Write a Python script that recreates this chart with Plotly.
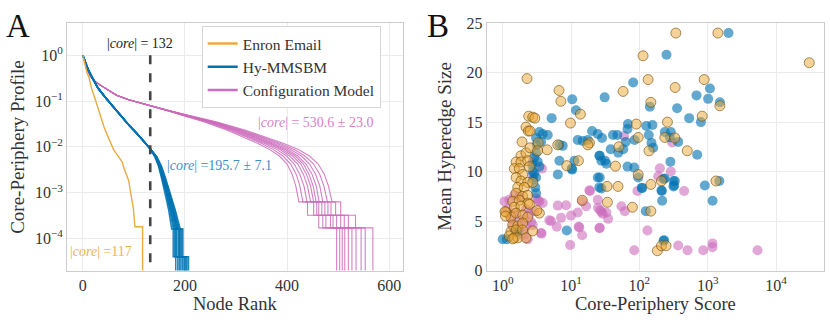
import plotly.graph_objects as go

# ---------------- panel A: core-periphery profiles ----------------
enron_rank = [0, 4, 8, 12, 17, 22, 26, 32, 38, 42, 48, 54, 60, 66, 72, 77, 80, 85, 90, 93, 96, 99, 102, 117, 117]
enron_profile = [1.0, 0.62, 0.42, 0.33, 0.19, 0.13, 0.095, 0.055, 0.035, 0.026, 0.018, 0.013, 0.0088,
                 0.0070, 0.0055, 0.0047, 0.0036, 0.0026, 0.0018, 0.0011, 0.00070, 0.00045, 0.00018,
                 0.00018, 1e-7]

# Hy-MMSBM runs: shared head, per-run tails
mmsbm_head_rank = [0, 10, 20, 30, 45, 60, 75, 90, 105, 120, 132]
mmsbm_head_profile = [1.0, 0.5, 0.30, 0.19, 0.117, 0.074, 0.048, 0.030, 0.020, 0.013, 0.0091]
mmsbm_tail_profile = [0.0060, 0.0038, 0.0021, 0.0010, 0.00042, 0.00016, 0.00016, 0.00004, 0.00004, 1e-7]
mmsbm_tail_rank = [
    [141, 148, 154, 161, 168, 174, 177, 177, 182, 182],
    [142, 149, 155, 163, 170, 177, 180, 180, 186, 186],
    [142, 150, 156, 164, 172, 179, 182, 182, 189, 189],
    [143, 150, 157, 165, 173, 181, 184, 184, 192, 192],
    [143, 151, 158, 166, 175, 183, 187, 187, 195, 195],
    [143, 151, 158, 167, 176, 184, 189, 189, 198, 198],
    [144, 152, 159, 168, 177, 186, 190, 190, 200, 200],
    [144, 152, 160, 169, 178, 187, 192, 192, 202, 202],
    [145, 153, 161, 170, 180, 189, 194, 194, 204, 204],
    [145, 154, 162, 171, 181, 191, 196, 196, 207, 207],
]

# configuration model runs
config_head_rank = [0, 5, 10, 15, 20, 25, 35, 50, 67, 90, 110, 131, 160]
config_head_profile = [1.0, 0.66, 0.45, 0.35, 0.30, 0.26, 0.22, 0.174, 0.132, 0.107, 0.093, 0.079, 0.065]
config_tail_profile = [0.049, 0.035, 0.023, 0.0158, 0.0117, 0.0087, 0.0063, 0.0042, 0.0025, 0.0014,
                       0.00063, 0.00063, 0.00032, 0.00032, 0.00017, 0.00017, 1e-7]
config_tail_rank = [
    [194, 238, 283, 318, 344, 366, 385, 400, 410, 417, 423, 440, 440, 462, 462, 497, 497],
    [196, 242, 288, 324, 351, 373, 392, 407, 418, 425, 431, 452, 452, 470, 470, 503, 503],
    [197, 245, 292, 329, 357, 380, 399, 414, 425, 433, 439, 458, 458, 476, 476, 508, 508],
    [199, 248, 296, 334, 362, 386, 405, 421, 432, 440, 446, 462, 462, 485, 485, 513, 513],
    [200, 250, 300, 338, 367, 391, 411, 427, 438, 446, 452, 468, 468, 490, 490, 520, 520],
    [201, 252, 303, 342, 371, 396, 416, 432, 443, 451, 457, 474, 474, 497, 497, 527, 527],
    [202, 254, 306, 346, 376, 401, 421, 437, 449, 457, 463, 480, 480, 505, 505, 535, 535],
    [204, 257, 310, 351, 382, 407, 428, 444, 456, 464, 470, 486, 486, 512, 512, 545, 545],
    [205, 260, 314, 356, 388, 414, 435, 452, 464, 472, 479, 495, 495, 520, 520, 553, 553],
    [207, 263, 319, 362, 395, 422, 444, 461, 473, 481, 488, 505, 505, 534, 534, 568, 568],
]
core_size = 132

# ---------------- panel B: scatter ----------------
enron_score = [1.85, 2.19, 1.57, 1.85, 2.32, 1.48, 1.75, 2.46, 1.96, 1.57, 1.85, 2.32, 1.66, 2.07, 1.57,
               1.96, 2.32, 1.40, 1.75, 2.32, 1.48, 1.85, 2.46, 1.12, 1.32, 1.57, 1.96, 2.32, 1.40, 1.66,
               1.96, 1.32, 1.57, 1.96, 2.75, 1.25, 1.48, 1.66, 2.19, 1.40, 3.44, 2.75, 3.16, 1.08, 1.10,
               2.27, 6.67, 7.1, 13.7, 9.8, 2.4, 2.75, 2.95, 2.19, 2.37, 2.51, 1.92, 2.51, 3.3, 4.47,
               6.4, 18.6, 17.6, 12.8, 8.65, 3.24,
               341, 1406, 113, 134, 57.7, 333, 885, 147, 1503, 828, 257, 90, 96, 235, 330, 50, 138,
               500, 44.6, 96, 210, 147, 33.6, 48.6, 1318, 34, 79, 147, 183, 210, 245, 30500, 14.6]
enron_size = [11.6, 11.9, 10.97, 10.97, 11.1, 10.3, 10.3, 10.5, 9.7, 9.4, 9.05, 8.9, 8.4, 8.4, 7.8,
              7.5, 7.6, 7.0, 7.1, 6.8, 6.4, 6.5, 6.7, 5.9, 5.4, 5.8, 5.6, 5.4, 4.6, 4.5,
              4.8, 3.95, 4.1, 4.1, 4.0, 3.5, 3.3, 3.3, 3.3, 3.2, 5.8, 8.9, 6.06, 5.96, 5.5,
              19.4, 18.2, 17.1, 15.8, 14.9, 15.6, 15.5, 15.4, 14.5, 14.1, 14.1, 13.0, 12.4, 12.9, 12.2,
              12.7, 12.9, 12.7, 11.1, 10.6, 12.1,
              24.0, 24.0, 21.7, 19.3, 18.1, 18.5, 19.3, 17.0, 16.65, 15.6, 15.0, 14.8, 13.45, 13.45,
              13.4, 12.5, 12.1, 12.1, 10.55, 9.7, 9.05, 8.7, 8.5, 8.5, 9.05, 6.9, 6.4, 6.0, 2.0, 2.5,
              2.5, 21.0, 7.1]

mmsbm_score = [10.4, 11.8, 5.2, 20.3, 3.44, 3.85, 4.56, 3.08, 3.64, 3.15, 6.75, 7.55, 12.5, 14.8, 17.6,
               24.6, 25.9, 6.75, 6.4, 11.2, 10.4, 3.08, 2.9, 3.25, 3.44, 2.75, 3.08, 3.0, 3.08, 24.6,
               25.9, 8.65, 1.0, 1.15, 1.53, 1.66,
               249, 81, 31, 1075, 684, 1012, 356, 1503, 142, 534, 792, 68, 67, 126, 155, 235, 288,
               279, 369, 28.4, 41, 47.6, 63, 85, 137, 150, 159, 38, 49, 58, 26.3, 27.8, 32.9, 700,
               284, 67, 84, 96, 235, 330, 322, 26.3, 27.8, 110, 210, 215, 906, 1175, 124, 230,
               2010, 1475, 213, 315, 315, 225, 108, 225, 10.2, 31.4, 2.7, 2.9, 2.8]
mmsbm_size = [17.3, 16.2, 15.4, 14.1, 14.0, 13.8, 13.7, 13.4, 13.0, 12.7, 12.7, 12.6, 13.2, 13.1, 13.2,
              13.8, 11.6, 11.1, 9.7, 11.1, 10.2, 11.9, 11.4, 11.0, 10.5, 10.0, 9.4, 8.4, 7.8, 9.4,
              8.4, 4.05, 3.16, 3.16, 3.95, 3.95,
              21.8, 19.0, 17.5, 18.4, 17.7, 17.35, 16.4, 17.0, 16.55, 15.4, 15.0, 14.8, 14.3, 14.6,
              14.7, 14.0, 14.0, 13.45, 13.0, 13.4, 13.7, 13.7, 13.0, 13.2, 13.7, 12.9, 12.4, 12.25,
              11.9, 12.25, 11.6, 11.1, 10.8, 11.7, 11.0, 10.5, 10.4, 9.4, 9.3, 9.05, 8.6, 9.4, 8.3,
              8.35, 8.1, 7.05, 8.6, 7.05, 6.0, 3.06,
              24.0, 9.05, 8.04, 9.05, 8.5, 9.25, 8.35, 3.0, 10.3, 11.1, 10.7, 9.8, 9.2]

config_score = [3.76, 2.75, 2.75, 1.06, 1.25, 1.48, 1.75, 3.08, 3.44, 3.85, 1.18, 1.57, 2.19, 2.46, 2.91,
                1.32, 1.66, 2.07, 2.6, 1.40, 1.75, 2.19, 2.75, 3.64, 2.32, 1.57, 2.07, 3.7, 3.3,
                6.4, 8.45, 4.81, 6.17, 7.14, 10, 12.5, 12.9, 14.5, 9.7, 18.5, 24.6, 26, 16.6, 14.5,
                5.1, 13.2, 19, 26.6, 29,
                59.7, 301, 199, 288, 188, 93.5, 451, 24.8, 27.8, 32.9, 34.8, 54.5, 61, 26.3, 131, 84,
                369, 505, 857, 1170, 1170, 5340]
config_size = [10.3, 11.0, 9.6, 6.98, 7.14, 7.62, 7.46, 7.3, 6.98, 6.82, 6.18, 5.87, 6.18, 5.71, 6.02,
               5.23, 5.07, 5.23, 4.91, 4.43, 4.27, 4.43, 4.59, 3.79, 3.15, 3.79, 3.63, 3.73, 7.08,
               6.56, 6.6, 5.07, 4.43, 5.32, 5.55, 5.87, 4.43, 3.57, 2.58, 8.1, 7.14, 4.27, 6.5, 7.0,
               5.0, 4.36, 8.04, 6.1, 5.74,
               13.6, 12.95, 10.33, 10.0, 9.53, 8.04, 8.04, 6.34, 5.93, 5.87, 5.22, 6.5, 6.0, 4.33,
               4.05, 2.04, 2.52, 2.04, 2.04, 2.74, 2.35, 2.04]

ORANGE = "#EBAA3F"
BLUE = "#0173B2"
PINK = "#CC6CBC"
FONT = "Liberation Serif"
TXT = "#333333"

fig = go.Figure()

# panel A lines
for tail in config_tail_rank:
    fig.add_trace(go.Scatter(
        x=config_head_rank + tail, y=config_head_profile + config_tail_profile,
        mode="lines", line=dict(color=PINK, width=1.1), opacity=0.85,
        showlegend=False, xaxis="x", yaxis="y"))
for tail in mmsbm_tail_rank:
    fig.add_trace(go.Scatter(
        x=mmsbm_head_rank + tail, y=mmsbm_head_profile + mmsbm_tail_profile,
        mode="lines", line=dict(color=BLUE, width=1.5), opacity=0.85,
        showlegend=False, xaxis="x", yaxis="y"))
fig.add_trace(go.Scatter(
    x=enron_rank, y=enron_profile, mode="lines", line=dict(color=ORANGE, width=1.4),
    showlegend=False, xaxis="x", yaxis="y"))
fig.add_trace(go.Scatter(
    x=[core_size, core_size], y=[1.0, 1e-7], mode="lines",
    line=dict(color="#444444", width=2.6, dash="dash"), showlegend=False, xaxis="x", yaxis="y"))

# legend proxies
for name, col in [("Enron Email", ORANGE), ("Hy-MMSBM", BLUE), ("Configuration Model", PINK)]:
    fig.add_trace(go.Scatter(x=[None], y=[None], mode="lines", line=dict(color=col, width=2.5),
                             name=name, xaxis="x", yaxis="y"))

# panel B scatter
fig.add_trace(go.Scatter(
    x=config_score, y=config_size, mode="markers", showlegend=False, xaxis="x2", yaxis="y2",
    marker=dict(size=10, color="rgba(204,108,188,0.6)", line=dict(width=0))))
fig.add_trace(go.Scatter(
    x=mmsbm_score, y=mmsbm_size, mode="markers", showlegend=False, xaxis="x2", yaxis="y2",
    marker=dict(size=10, color="rgba(1,115,178,0.62)", line=dict(width=0))))
fig.add_trace(go.Scatter(
    x=enron_score, y=enron_size, mode="markers", showlegend=False, xaxis="x2", yaxis="y2",
    marker=dict(size=10, color="rgba(236,165,50,0.5)", line=dict(width=1, color="rgba(110,75,10,0.6)"))))

axis_common = dict(showline=True, linecolor="#cccccc", linewidth=1, mirror=True,
                   gridcolor="#ebebeb", gridwidth=1, zeroline=False, ticks="",
                   tickfont=dict(family=FONT, size=16, color=TXT))


def sup(e):
    return "10<sup>%s</sup>" % str(e).replace("-", "−")


fig.update_layout(
    width=830, height=325,
    margin=dict(l=0, r=0, t=0, b=0),
    paper_bgcolor="white", plot_bgcolor="white",
    font=dict(family=FONT, color=TXT),
    xaxis=dict(domain=[67 / 830, 403 / 830], range=[-31, 627],
               tickvals=[0, 200, 400, 600], anchor="y", **axis_common),
    yaxis=dict(domain=[1 - 277 / 325, 1 - 16 / 325], type="log", range=[-4.7, 0.7],
               tickvals=[1e-4, 1e-3, 1e-2, 1e-1, 1],
               ticktext=[sup(-4), sup(-3), sup(-2), sup(-1), sup(0)], anchor="x", **axis_common),
    xaxis2=dict(domain=[486.7 / 830, 824 / 830], type="log", range=[-0.234, 4.70],
                tickvals=[1, 10, 100, 1000, 10000],
                ticktext=[sup(0), sup(1), sup(2), sup(3), sup(4)], anchor="y2", **axis_common),
    yaxis2=dict(domain=[1 - 277 / 325, 1 - 16 / 325], range=[0, 25],
                tickvals=[0, 5, 10, 15, 20, 25], anchor="x2", **axis_common),
    legend=dict(x=201.7 / 830, y=1 - 19 / 325, xanchor="left", yanchor="top",
                bgcolor="white", bordercolor="#d6d6d6", borderwidth=1,
                font=dict(family=FONT, size=15.5, color=TXT), tracegroupgap=0, itemwidth=30),
)


def ann(x, y, text, size, color, xanchor="center", rot=0):
    fig.add_annotation(x=x, y=y, xref="paper", yref="paper", text=text, showarrow=False,
                       xanchor=xanchor, yanchor="middle", textangle=rot,
                       font=dict(family=FONT, size=size, color=color))


ann(17.5 / 830, 1 - 19 / 325, "A", 33, "#111111")
ann(438 / 830, 1 - 19 / 325, "B", 33, "#111111")
ann(235 / 830, 1 - 312 / 325, "Node Rank", 18.5, TXT)
ann(655 / 830, 1 - 312 / 325, "Core-Periphery Score", 18.5, TXT)
ann(18 / 830, 1 - 146.5 / 325, "Core-Periphery Profile", 19, TXT, rot=-90)
ann(445 / 830, 1 - 146.5 / 325, "Mean Hyperedge Size", 19, TXT, rot=-90)

ann(140 / 830, 1 - 37 / 325, "|<i>core</i>| = %d" % core_size, 14, "#222222")
ann(164.7 / 830, 1 - 166 / 325, "|<i>core</i>| =195.7 ± 7.1", 14, "#3b8fc4", xanchor="left")
ann(256 / 830, 1 - 120.5 / 325, "|<i>core</i>| = 530.6 ± 23.0", 14, "#d77fc6", xanchor="left")
ann(68.3 / 830, 1 - 257.3 / 325, "|<i>core</i>| =117", 14, "#efb24f", xanchor="left")

# page body has a default 8px margin; drop it so the figure sits at the window origin
fig.write_html("out.html", config={"displayModeBar": False},
               post_script="document.body.style.margin='0';document.body.style.overflow='hidden';")
